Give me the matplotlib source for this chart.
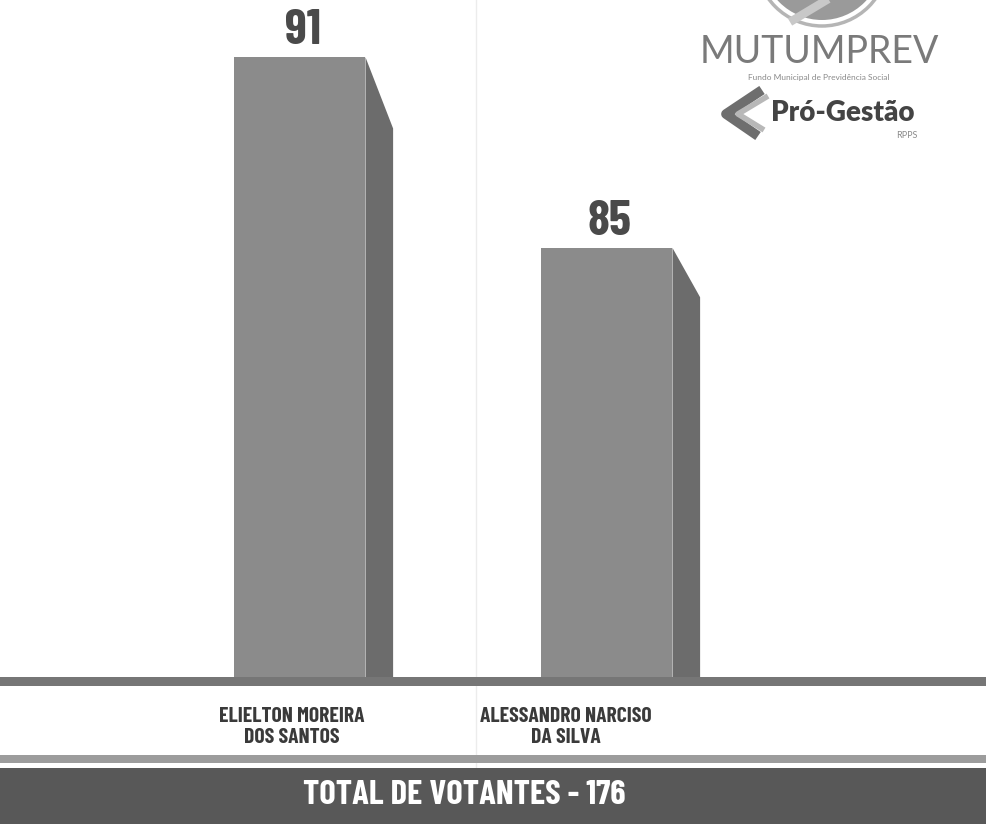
import numpy as np
import matplotlib.pyplot as plt
from matplotlib.patches import Polygon, Rectangle, Circle

# data
candidates = ["ELIELTON MOREIRA\nDOS SANTOS", "ALESSANDRO NARCISO\nDA SILVA"]
votes = [91, 85]
total_text = "TOTAL DE VOTANTES - 176"

base = 71.5          # truncated baseline of the value axis
top = 92.8
bar_w = 0.427
side_w = 0.09
label_shift = [-0.026, -0.134]

narrow = ['Barlow Condensed', 'DejaVu Sans']

fig = plt.figure(figsize=(9.87, 8.24), dpi=100)
fig.patch.set_facecolor('white')

# main bar axes: from the baseline band up to the top edge
ax = fig.add_axes([0, 1 - 677 / 824, 1, 677 / 824])
ax.set_xlim(-0.977, 2.238)
ax.set_ylim(base, top)
ax.axis('off')

x = np.arange(len(votes))
ax.bar(x, votes, width=bar_w, bottom=0, color='#8b8b8b', zorder=2)
for xi, v in zip(x, votes):
    xr = xi + bar_w / 2
    drop = 0.115 * (v - base)
    side = Polygon([(xr, base), (xr, v), (xr + side_w, v - drop), (xr + side_w, base)],
                   closed=True, facecolor='#6c6c6c', edgecolor='none', zorder=2)
    ax.add_patch(side)
    ax.annotate(str(v), (xi, v), xytext=(2, 3), textcoords='offset points',
                ha='center', va='bottom', fontsize=36, fontweight='bold',
                fontstretch='condensed', color='#4a4a4a', family=narrow)

# overlay in pixel coordinates for bands, labels and logo
ov = fig.add_axes([0, 0, 1, 1], zorder=5)
ov.set_xlim(0, 987)
ov.set_ylim(824, 0)
ov.axis('off')
ov.patch.set_alpha(0)

ov.axvline(476, color='#ececec', lw=1, zorder=0)
ov.add_patch(Rectangle((0, 677), 987, 9, facecolor='#767676', edgecolor='none'))
ov.add_patch(Rectangle((0, 755), 987, 8, facecolor='#9c9c9c', edgecolor='none'))
ov.add_patch(Rectangle((0, 768), 987, 56, facecolor='#585858', edgecolor='none'))

# category labels
for xi, name, sh in zip(x, candidates, label_shift):
    px = (xi + 0.977 + sh) / (2.238 + 0.977) * 987
    ov.text(px, 727, name, ha='center', va='center', fontsize=15.5,
            fontweight='bold', fontstretch='condensed', color='#3a3a3a',
            family=narrow, linespacing=1.15)

ov.text(464, 795, total_text, ha='center', va='center', fontsize=25,
        fontweight='bold', fontstretch='condensed', color='white', family=narrow)

# logo
ov.add_patch(Circle((822, -40), 66, facecolor='white', edgecolor='#b5b5b5', lw=2.5))
ov.add_patch(Circle((822, -40), 60, facecolor='#9a9a9a', edgecolor='none'))
ov.plot([790, 835], [22, -5], color='#c8c8c8', lw=6, solid_capstyle='butt')
ov.text(819, 52, "MUTUMPREV", ha='center', va='center', fontsize=27,
        color='#7a7a7a', family=['Lato', 'DejaVu Sans'])
ov.text(819, 77, "Fundo Municipal de Previdência Social", ha='center', va='center',
        fontsize=6, color='#8a8a8a', family=['Lato', 'DejaVu Sans'])
ov.plot([762, 726, 758], [90, 114, 136], color='#6e6e6e', lw=7, solid_capstyle='butt')
ov.plot([768, 738, 764], [96, 114, 130], color='#b8b8b8', lw=4, solid_capstyle='butt')
ov.text(843, 113, "Pró-Gestão", ha='center', va='center', fontsize=20,
        fontweight='heavy', color='#444444', family=['Lato', 'DejaVu Sans'])
ov.text(907, 135, "RPPS", ha='center', va='center', fontsize=6.5,
        color='#8a8a8a', family=['Lato', 'DejaVu Sans'])

fig.savefig('out.png', dpi=100)
